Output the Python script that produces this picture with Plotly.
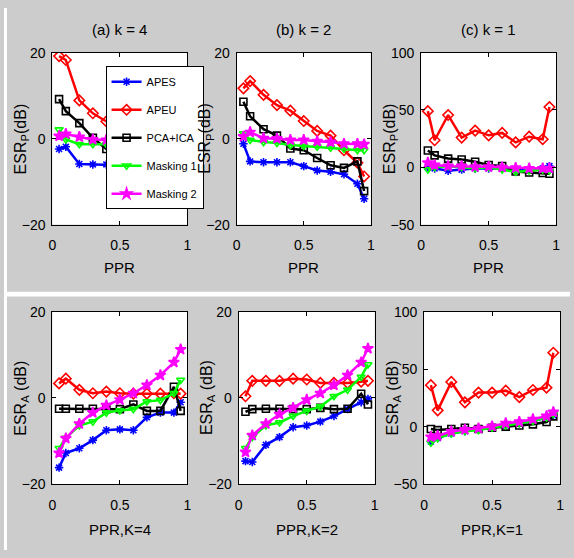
import plotly.graph_objects as go

W, H = 574, 558

ppr = [0.05, 0.1, 0.2, 0.3, 0.4, 0.5, 0.6, 0.7, 0.8, 0.9, 0.95]
series_names = ["APES", "APEU", "PCA+ICA", "Masking 1", "Masking 2"]
panel_titles = ["(a) k = 4", "(b) k = 2", "(c) k = 1"]
bottom_xtitles = ["PPR,K=4", "PPR,K=2", "PPR,K=1"]

# ESR_P, k = 4
p4_apes = [-2.4, -1.9, -5.9, -6.0, -6.0, -6.2, -6.4, -6.6, -7.0, -7.5, -8.0]
p4_apeu = [19.2, 18.3, 8.9, 5.9, 4.0, 3.0, 2.2, 1.5, 1.0, 0.5, 0.0]
p4_pca = [9.2, 6.4, 3.6, 0.2, -2.4, -3.0, -3.5, -4.0, -4.5, -5.0, -6.0]
p4_mask1 = [2.1, -0.2, -1.3, -1.3, -1.3, -1.5, -1.7, -1.9, -2.1, -2.3, -2.5]
p4_mask2 = [0.6, 1.1, 0.4, -0.2, -0.3, -0.4, -0.6, -0.8, -1.0, -1.1, -1.2]

# ESR_P, k = 2
p2_apes = [-1.2, -5.3, -5.5, -5.5, -5.5, -6.4, -7.4, -7.7, -8.3, -10.5, -14.0]
p2_apeu = [11.7, 13.4, 10.2, 7.8, 6.5, 4.1, 1.8, 0.7, -2.7, -5.6, -8.8]
p2_pca = [8.6, 5.2, 2.2, 0.7, -2.3, -2.7, -4.5, -6.2, -6.8, -5.3, -12.2]
p2_mask1 = [1.2, -0.3, -0.8, -1.0, -1.5, -1.7, -1.9, -2.1, -2.4, -2.7, -2.7]
p2_mask2 = [0.5, 1.5, 0.1, 0.0, -0.3, -0.3, -0.6, -0.8, -1.2, -1.2, -1.3]

# ESR_P, k = 1
p1_apes = [0.0, -1.0, -3.0, -2.0, -1.0, -1.0, -1.0, -2.0, -2.0, -1.0, 1.0]
p1_apeu = [49.0, 23.6, 45.6, 25.9, 32.0, 27.9, 30.0, 21.7, 26.7, 24.5, 52.6]
p1_pca = [14.6, 10.4, 7.6, 6.8, 4.8, 2.0, 1.1, -3.7, -4.5, -5.0, -5.6]
p1_mask1 = [-2.0, 0.0, 1.0, 0.0, -1.0, 0.0, -2.0, -4.0, -3.0, -2.0, -3.0]
p1_mask2 = [4.0, 2.0, 1.0, 1.0, 0.5, 0.5, 0.0, -0.5, -1.0, -1.0, -1.0]

# ESR_A, K = 4
a4_apes = [-16.2, -12.8, -11.7, -9.8, -7.5, -7.3, -7.5, -4.5, -3.4, -3.4, -1.0]
a4_apeu = [3.4, 4.5, 1.9, 1.1, 1.5, 1.1, 1.0, 1.0, 1.0, 1.1, 1.0]
a4_pca = [-2.5, -2.5, -2.5, -2.5, -2.6, -2.6, -1.5, -3.0, -3.0, 2.6, -3.0]
a4_mask1 = [-11.7, -9.3, -6.4, -5.5, -3.4, -2.9, -2.6, -0.8, -0.5, 1.1, 4.2]
a4_mask2 = [-12.8, -9.4, -6.0, -3.4, -1.7, -0.4, 1.1, 3.0, 5.3, 8.3, 11.3]

# ESR_A, K = 2
a2_apes = [-14.7, -14.9, -10.9, -9.1, -6.8, -6.4, -5.5, -4.2, -2.6, -1.0, -0.2]
a2_apeu = [0.4, 4.0, 4.0, 4.0, 4.5, 4.3, 3.5, 3.5, 3.5, 3.8, 4.0]
a2_pca = [-3.2, -2.6, -2.5, -2.5, -2.6, -2.6, -2.3, -2.6, -2.5, 1.0, -1.5]
a2_mask1 = [-11.7, -9.1, -6.4, -5.7, -4.2, -3.0, -2.0, 0.4, 1.9, 4.9, 7.8]
a2_mask2 = [-12.6, -8.7, -6.0, -3.8, -2.3, -0.4, 1.1, 3.0, 5.3, 8.3, 11.5]

# ESR_A, K = 1
a1_apes = [-13.0, -10.0, -6.0, -4.0, -2.0, -1.0, 1.0, 3.0, 5.0, 8.0, 10.0]
a1_apeu = [36.2, 14.2, 39.0, 21.2, 29.7, 29.7, 31.4, 25.8, 32.0, 34.0, 64.5]
a1_pca = [-2.0, -3.0, -2.0, -1.0, -2.0, -1.0, 0.0, 1.0, 2.0, 4.0, 9.0]
a1_mask1 = [-14.0, -10.0, -6.0, -4.0, -3.0, -1.0, 1.0, 3.0, 5.0, 8.0, 11.0]
a1_mask2 = [-9.0, -8.0, -4.2, -2.5, -1.4, 0.3, 3.0, 4.2, 6.5, 9.3, 12.7]

panels = [
    [p4_apes, p4_apeu, p4_pca, p4_mask1, p4_mask2],
    [p2_apes, p2_apeu, p2_pca, p2_mask1, p2_mask2],
    [p1_apes, p1_apeu, p1_pca, p1_mask1, p1_mask2],
    [a4_apes, a4_apeu, a4_pca, a4_mask1, a4_mask2],
    [a2_apes, a2_apeu, a2_pca, a2_mask1, a2_mask2],
    [a1_apes, a1_apeu, a1_pca, a1_mask1, a1_mask2],
]

colors = ["#0000ff", "#ff0000", "#000000", "#00ff00", "#ff00ff"]
symbols = ["asterisk-open", "diamond-open", "square-open", "triangle-down-open", "star"]
msizes = [7, 8, 7, 7, 8]

# pixel boxes of the six axes: (left, right, top, bottom)
boxes = [
    (49, 186, 46, 223), (236, 372, 46, 223), (423, 560, 46, 223),
    (49, 186, 313, 490), (238, 376, 313, 490), (426, 564, 313, 490),
]
yranges = [[-20, 20], [-20, 20], [-50, 100], [-20, 20], [-20, 20], [-50, 100]]
yticks = [[-20, 0, 20], [-20, 0, 20], [-50, 0, 50, 100],
          [-20, 0, 20], [-20, 0, 20], [-50, 0, 50, 100]]


def px(x):
    return x / W


def py(y):
    return 1 - y / H


FAM = "Liberation Sans Narrow, Arial Narrow, Liberation Sans, Arial, sans-serif"
TICKFONT = dict(family=FAM, size=14, color="black")
TITLEFONT = dict(family=FAM, size=15, color="black")

fig = go.Figure()

for i, data in enumerate(panels):
    ax = "" if i == 0 else str(i + 1)
    for j, vals in enumerate(data):
        fig.add_trace(go.Scatter(
            x=ppr, y=vals, mode="lines+markers", name=series_names[j],
            xaxis="x" + ax, yaxis="y" + ax,
            line=dict(color=colors[j], width=2.5),
            marker=dict(symbol=symbols[j], size=msizes[j], color=colors[j],
                        line=dict(color=colors[j], width=1.6)),
            showlegend=(i == 0), legendgroup=series_names[j],
        ))

layout_axes = {}
for i, (l, r, t, b) in enumerate(boxes):
    k = "" if i == 0 else str(i + 1)
    layout_axes["xaxis" + k] = dict(
        domain=[px(l), px(r)], anchor="y" + k, range=[0, 1],
        tickvals=[0, 0.5, 1], ticktext=["0", "0.5", "1"],
        ticks="inside", ticklen=4, tickcolor="black", showline=True,
        linecolor="black", linewidth=1, mirror="ticks", showgrid=False,
        zeroline=False, tickfont=TICKFONT, ticklabelstandoff=8,
    )
    layout_axes["yaxis" + k] = dict(
        domain=[py(b), py(t)], anchor="x" + k, range=yranges[i],
        tickvals=yticks[i], ticks="inside", ticklen=4, tickcolor="black",
        showline=True, linecolor="black", linewidth=1, mirror="ticks",
        showgrid=False, zeroline=False, tickfont=TICKFONT, ticklabelstandoff=3,
    )

annotations = []
for i, (l, r, t, b) in enumerate(boxes):
    cx = (l + r) / 2
    cy = (t + b) / 2
    if i < 3:
        annotations.append(dict(x=px(cx), y=py(22), text=panel_titles[i]))
        annotations.append(dict(x=px(cx), y=py(267), text="PPR"))
        ytxt = "ESR<sub>P</sub>(dB)"
    else:
        annotations.append(dict(x=px(cx), y=py(537), text=bottom_xtitles[i - 3]))
        ytxt = "ESR<sub>A</sub> (dB)"
    annotations.append(dict(x=px(l - 31), y=py(cy), text=ytxt, textangle=-90,
                            font=dict(family="Liberation Sans, Arial, sans-serif",
                                      size=16, color="black")))
for a in annotations:
    a.update(xref="paper", yref="paper", showarrow=False,
             xanchor="center", yanchor="middle")
    a.setdefault("font", TITLEFONT)

shapes = [
    dict(type="rect", xref="paper", yref="paper", x0=0, x1=1,
         y0=py(297), y1=py(292), fillcolor="white", line=dict(width=0), layer="below"),
    dict(type="rect", xref="paper", yref="paper", x0=0, x1=px(3),
         y0=0, y1=1, fillcolor="white", line=dict(width=0), layer="below"),
]

fig.update_layout(
    width=W, height=H, margin=dict(l=0, r=0, t=0, b=0),
    paper_bgcolor="#cccccc", plot_bgcolor="white",
    annotations=annotations, shapes=shapes,
    legend=dict(x=px(103), y=py(60), xanchor="left", yanchor="top",
                bgcolor="white", bordercolor="black", borderwidth=1,
                font=dict(family=FAM, size=11, color="black"),
                tracegroupgap=9, itemwidth=30),
    **layout_axes,
)

fig.write_html("out.html", config={"displayModeBar": False},
               post_script="document.body.style.margin='0px';document.body.style.padding='0px';")
